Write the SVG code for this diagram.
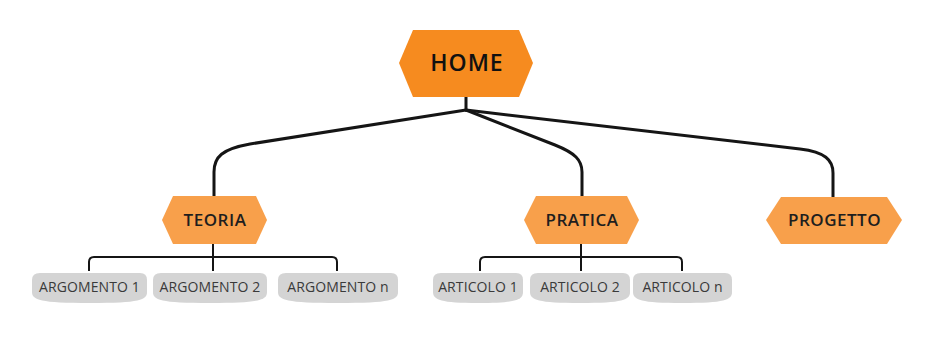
<svg xmlns="http://www.w3.org/2000/svg" width="929" height="341" viewBox="0 0 929 341">
  <style>
    .main { fill: #F68B1F; }
    .sect { fill: #F8A04B; }
    .leaf { fill: #D4D4D4; }
    .wire { fill: none; stroke: #151515; stroke-width: 3; stroke-linecap: round; stroke-linejoin: round; }
    .bracket { fill: none; stroke: #151515; stroke-width: 2; stroke-linejoin: round; }
    text { font-family: "Open Sans", "Liberation Sans", sans-serif; text-anchor: middle; }
    .t-main { font-size: 23px; font-weight: 600; letter-spacing: 1px; fill: #111; }
    .t-sect { font-size: 17px; font-weight: 600; letter-spacing: 0.5px; fill: #1e1e1e; }
    .t-leaf { font-size: 14px; font-weight: 400; letter-spacing: 0.1px; fill: #3a3a3a; }
  </style>
  <rect width="929" height="341" fill="#FFFFFF"/>

  <!-- connectors -->
  <g id="connectors">
    <path class="wire" d="M466,97 V110"/>
    <path class="wire" d="M466,110 L250,144 C222,149 214,157 214,172 V196"/>
    <path class="wire" d="M466,110 L555,145 C575,153 582,160 582,172 V196"/>
    <path class="wire" d="M466,110 L800,149 C825,152 833,160 833,173 V197"/>
    <path class="bracket" d="M213,244 V271"/>
    <path class="bracket" d="M89,271 V262 Q89,257 94,257 H332 Q337,257 337,262 V271"/>
    <path class="bracket" d="M581,244 V271"/>
    <path class="bracket" d="M480,271 V262 Q480,257 485,257 H677 Q682,257 682,262 V271"/>
  </g>

  <!-- root -->
  <g id="home">
    <polygon class="main" points="399,63 413,30 519,30 533,63 519,97 413,97"/>
    <text class="t-main" x="467" y="71">HOME</text>
  </g>

  <!-- sections -->
  <g id="teoria">
    <polygon class="sect" points="162,220 173,196 256,196 267,220 256,244 173,244"/>
    <text class="t-sect" x="215" y="226">TEORIA</text>
  </g>
  <g id="pratica">
    <polygon class="sect" points="524,220 536,196 627,196 639,220 627,244 536,244"/>
    <text class="t-sect" x="582" y="226">PRATICA</text>
  </g>
  <g id="progetto">
    <polygon class="sect" points="766,220 781,197 887,197 902,220 887,244 781,244"/>
    <text class="t-sect" x="834.5" y="226">PROGETTO</text>
  </g>

  <!-- leaves -->
  <g id="argomento-1">
    <path class="leaf" d="M40,273 H140 Q147,273 147,280 V292 C147,300 140,303 90,303 C40,303 32,300 32,292 V280 Q32,273 40,273 Z"/>
    <text class="t-leaf" x="89.5" y="292">ARGOMENTO 1</text>
  </g>
  <g id="argomento-2">
    <path class="leaf" d="M161,273 H260 Q267,273 267,280 V292 C267,300 260,303 210,303 C160,303 153,300 153,292 V280 Q153,273 161,273 Z"/>
    <text class="t-leaf" x="210" y="292">ARGOMENTO 2</text>
  </g>
  <g id="argomento-n">
    <path class="leaf" d="M286,273 H391 Q398,273 398,280 V292 C398,300 391,303 338,303 C286,303 278,300 278,292 V280 Q278,273 286,273 Z"/>
    <text class="t-leaf" x="338" y="292">ARGOMENTO n</text>
  </g>
  <g id="articolo-1">
    <path class="leaf" d="M441,273 H516 Q523,273 523,280 V292 C523,300 516,303 478,303 C441,303 433,300 433,292 V280 Q433,273 441,273 Z"/>
    <text class="t-leaf" x="478" y="292">ARTICOLO 1</text>
  </g>
  <g id="articolo-2">
    <path class="leaf" d="M538,273 H623 Q630,273 630,280 V292 C630,300 623,303 580,303 C538,303 530,300 530,292 V280 Q530,273 538,273 Z"/>
    <text class="t-leaf" x="580" y="292">ARTICOLO 2</text>
  </g>
  <g id="articolo-n">
    <path class="leaf" d="M641,273 H725 Q732,273 732,280 V292 C732,300 725,303 682,303 C641,303 633,300 633,292 V280 Q633,273 641,273 Z"/>
    <text class="t-leaf" x="682.5" y="292">ARTICOLO n</text>
  </g>
</svg>
